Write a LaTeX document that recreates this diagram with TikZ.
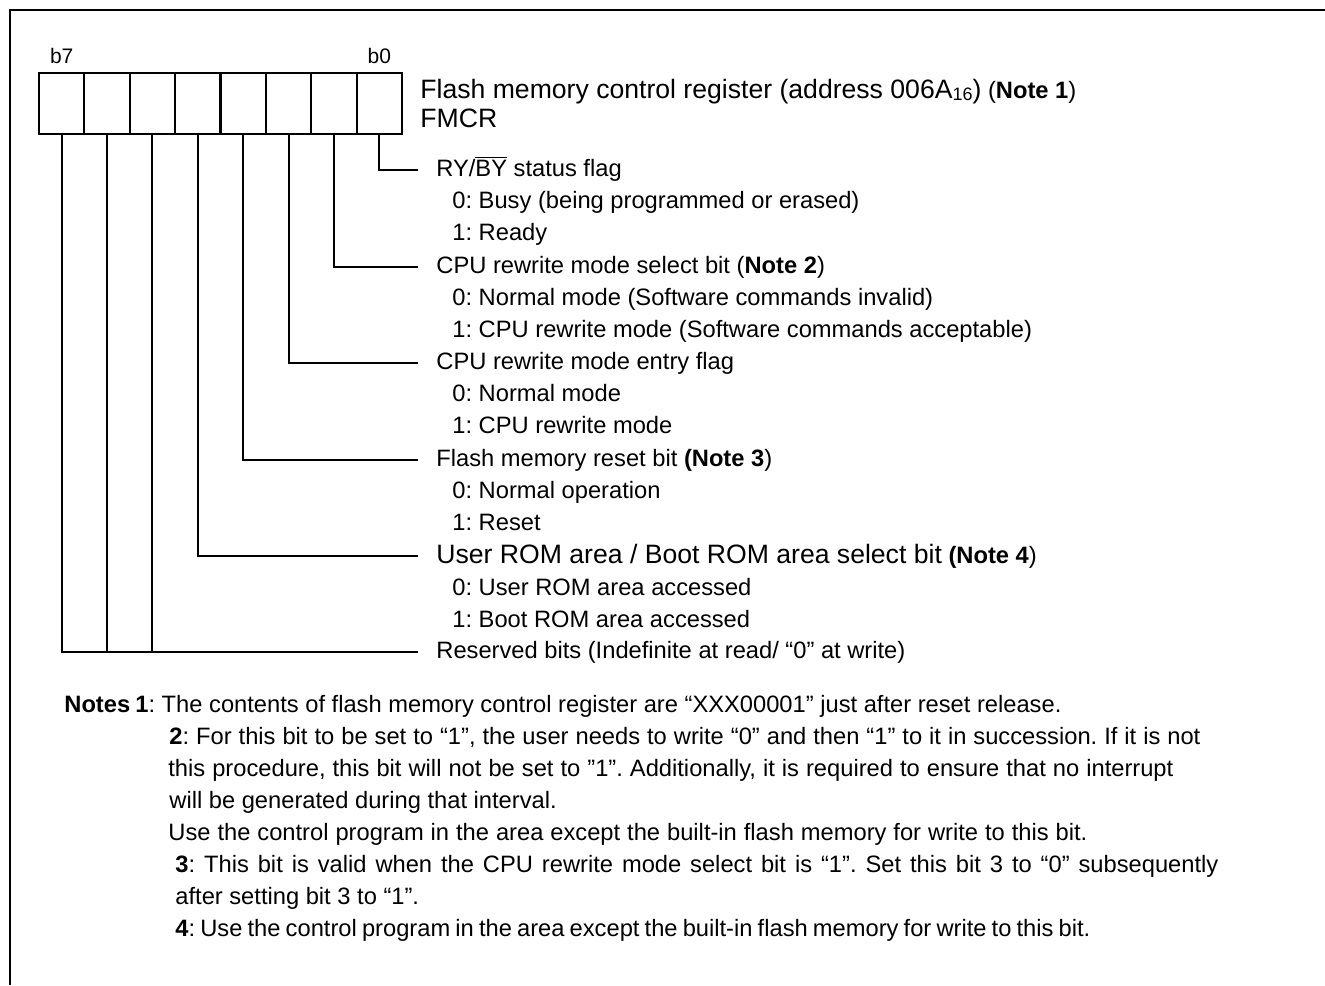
\documentclass[tikz,border=0pt]{standalone}
\usepackage{fontspec}
\setmainfont{Liberation Sans}
\usetikzlibrary{positioning}
\frenchspacing
\newcommand{\fitto}[2]{\makebox[#1][s]{#2}}
\newcommand{\bigtxt}{\fontsize{13.3}{16}\selectfont}

\begin{document}
\begin{tikzpicture}[
    x=0.5pt, y=-0.5pt,
    font=\fontsize{11.85}{14}\selectfont,
    cell/.style={rectangle, draw, line width=1pt, inner sep=0pt,
                 minimum width=22.69pt, minimum height=30.5pt},
    bitlbl/.style={anchor=west, inner xsep=9pt, inner ysep=0pt,
                   text height=1.5ex, text depth=0.25ex},
    opt/.style={anchor=west, inner sep=0pt, text height=1.5ex, text depth=0.25ex},
    note/.style={anchor=west, inner sep=0pt, text height=1.5ex, text depth=0.25ex},
    wire/.style={line width=1pt},
    frame/.style={line width=1.2pt}
]
\useasboundingbox (0,0) rectangle (1325,985);

%% ── FRAME ───────────────────────────────────────────────────────────────────
\draw[frame] (10,985) -- (10,10) -- (1325,10);

%% ── REGISTER CELLS ──────────────────────────────────────────────────────────
\node[cell] (c7) at ( 61.7,103.5) {};
\node[cell] (c6) at (107.1,103.5) {};
\node[cell] (c5) at (152.4,103.5) {};
\node[cell] (c4) at (197.8,103.5) {};
\node[cell] (c3) at (243.2,103.5) {};
\node[cell] (c2) at (288.6,103.5) {};
\node[cell] (c1) at (333.9,103.5) {};
\node[cell] (c0) at (379.3,103.5) {};
\node[above=4pt of c7, inner sep=0pt, font=\fontsize{10.5}{12}\selectfont] (b7) {b7};
\node[above=4pt of c0, inner sep=0pt, font=\fontsize{10.5}{12}\selectfont] (b0) {b0};

\node[opt] (title) at (420, 92)
     {{\bigtxt Flash memory control register (address 006A\raisebox{-1pt}{\fontsize{9}{9}\selectfont 16})} (\textbf{Note 1})};
\node[opt, font=\bigtxt] (fmcr) at (420,121) {FMCR};

%% ── BIT DESCRIPTIONS ────────────────────────────────────────────────────────
\node[bitlbl] (t0) at (418,170.0) {RY/$\overline{\mbox{BY}}$ status flag};
\node[opt] (t0a) at (452,202.0) {0: Busy (being programmed or erased)};
\node[opt] (t0b) at (452,234.0) {1: Ready};

\node[bitlbl] (t1) at (418,266.6) {CPU rewrite mode select bit (\textbf{Note 2})};
\node[opt] (t1a) at (452,298.6) {0: Normal mode (Software commands invalid)};
\node[opt] (t1b) at (452,330.6) {1: CPU rewrite mode (Software commands acceptable)};

\node[bitlbl] (t2) at (418,363.2) {CPU rewrite mode entry flag};
\node[opt] (t2a) at (452,395.2) {0: Normal mode};
\node[opt] (t2b) at (452,427.2) {1: CPU rewrite mode};

\node[bitlbl] (t3) at (418,459.8) {Flash memory reset bit \textbf{(Note 3})};
\node[opt] (t3a) at (452,491.8) {0: Normal operation};
\node[opt] (t3b) at (452,523.8) {1: Reset};

\node[bitlbl] (t4) at (418,556.4) {{\bigtxt User ROM area / Boot ROM area select bit} \textbf{(Note 4}){}};
\node[opt] (t4a) at (452,588.4) {0: User ROM area accessed};
\node[opt] (t4b) at (452,620.4) {1: Boot ROM area accessed};

\node[bitlbl] (rsv) at (418,652.0) {Reserved bits (Indefinite at read/ “0” at write)};

%% ── Connectors ──────────────────────────────────────────────────────────────
\draw[wire] (c0.south) |- (t0.west);
\draw[wire] (c1.south) |- (t1.west);
\draw[wire] (c2.south) |- (t2.west);
\draw[wire] (c3.south) |- (t3.west);
\draw[wire] (c4.south) |- (t4.west);
\draw[wire] (c7.south) |- (rsv.west);
\draw[wire] (c6.south) -- (c6.south |- rsv.west);
\draw[wire] (c5.south) -- (c5.south |- rsv.west);

%% ── NOTES ───────────────────────────────────────────────────────────────────
\node[note] (nhead) at (64,706) {\textbf{Notes}};
\node[note] (n1)  at (135,706) {\textbf{1}: The contents of flash memory control register are “XXX00001” just after reset release.};
\node[note] (n2a) at (169,738) {\fitto{515.5pt}{\textbf{2}: For this bit to be set to “1”, the user needs to write “0” and then “1” to it in succession. If it is not}};
\node[note] (n2b) at (168,770) {\fitto{502.5pt}{this procedure, this bit will not be set to ”1”. Additionally, it is required to ensure that no interrupt}};
\node[note] (n2c) at (169,802) {will be generated during that interval.};
\node[note] (n2d) at (168,834) {\fitto{459.5pt}{Use the control program in the area except the built-in flash memory for write to this bit.}};
\node[note] (n3a) at (175,866) {\fitto{521.5pt}{\textbf{3}: This bit is valid when the CPU rewrite mode select bit is “1”. Set this bit 3 to “0” subsequently}};
\node[note] (n3b) at (175,898) {after setting bit 3 to “1”.};
\node[note] (n4)  at (175,930) {\fitto{457.5pt}{\textbf{4}: Use the control program in the area except the built-in flash memory for write to this bit.}};

\end{tikzpicture}
\end{document}
